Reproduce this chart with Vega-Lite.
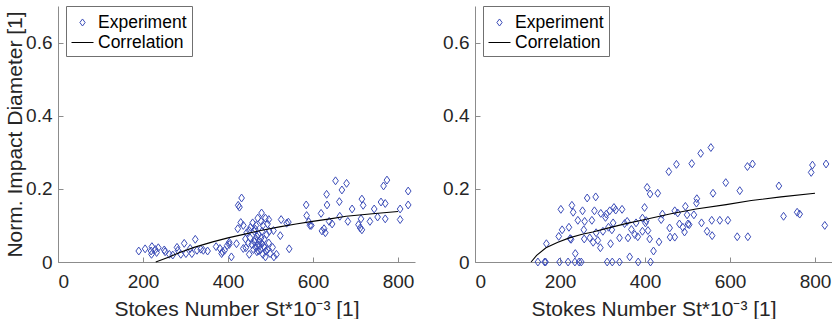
{
  "$schema": "https://vega.github.io/schema/vega-lite/v6.json",
  "background": "white",
  "padding": {"left": 4, "top": 5, "right": 0, "bottom": 0},
  "spacing": 27,
  "config": {
    "view": {"stroke": null},
    "font": "Liberation Sans",
    "axis": {
      "grid": false,
      "domainColor": "#8c8c8c",
      "tickColor": "#8c8c8c",
      "tickSize": -5,
      "labelFontSize": 19,
      "titleFontSize": 21,
      "labelColor": "#262626",
      "titleColor": "#262626",
      "titleFontWeight": "normal",
      "labelFont": "Liberation Sans",
      "titleFont": "Liberation Sans"
    },
    "legend": {
      "orient": "none",
      "legendX": 8,
      "legendY": 0,
      "padding": 5,
      "strokeColor": "#707070",
      "fillColor": "white",
      "labelFontSize": 17.5,
      "labelColor": "#000000",
      "labelFont": "Liberation Sans",
      "symbolStrokeWidth": 1,
      "symbolSize": 484,
      "labelOffset": 4,
      "rowPadding": 0,
      "title": null
    }
  },
  "datasets": {
    "left": [
      {"x":190,"y":0.030},{"x":205,"y":0.036},{"x":219,"y":0.030},{"x":221,"y":0.042},{"x":220,"y":0.021},
      {"x":229,"y":0.034},{"x":232,"y":0.026},{"x":236,"y":0.039},{"x":250,"y":0.033},{"x":252,"y":0.028},
      {"x":262,"y":0.021},{"x":270,"y":0.019},{"x":280,"y":0.040},{"x":282,"y":0.032},{"x":289,"y":0.021},
      {"x":297,"y":0.051},{"x":301,"y":0.023},{"x":311,"y":0.037},{"x":315,"y":0.023},{"x":323,"y":0.062},
      {"x":327,"y":0.032},{"x":336,"y":0.035},{"x":342,"y":0.032},{"x":352,"y":0.030},{"x":372,"y":0.042},
      {"x":381,"y":0.037},{"x":385,"y":0.023},{"x":387,"y":0.028},{"x":392,"y":0.032},{"x":398,"y":0.045},
      {"x":403,"y":0.048},{"x":403,"y":0.054},{"x":408,"y":0.014},{"x":420,"y":0.050},{"x":423,"y":0.091},
      {"x":424,"y":0.155},{"x":427,"y":0.150},{"x":432,"y":0.175},{"x":430,"y":0.108},{"x":436,"y":0.100},
      {"x":436,"y":0.037},{"x":441,"y":0.063},{"x":444,"y":0.080},{"x":450,"y":0.086},{"x":453,"y":0.095},
      {"x":458,"y":0.107},{"x":462,"y":0.084},{"x":464,"y":0.062},{"x":466,"y":0.039},{"x":468,"y":0.028},
      {"x":470,"y":0.048},{"x":472,"y":0.075},{"x":474,"y":0.057},{"x":476,"y":0.034},{"x":478,"y":0.066},
      {"x":480,"y":0.084},{"x":482,"y":0.021},{"x":484,"y":0.043},{"x":485,"y":0.062},{"x":488,"y":0.014},
      {"x":489,"y":0.030},{"x":491,"y":0.075},{"x":493,"y":0.034},{"x":496,"y":0.052},{"x":497,"y":0.084},
      {"x":499,"y":0.023},{"x":450,"y":0.021},{"x":456,"y":0.048},{"x":460,"y":0.034},{"x":452,"y":0.066},
      {"x":448,"y":0.052},{"x":442,"y":0.039},{"x":466,"y":0.100},{"x":478,"y":0.111},{"x":482,"y":0.100},
      {"x":470,"y":0.120},{"x":462,"y":0.055},{"x":468,"y":0.070},{"x":474,"y":0.045},{"x":480,"y":0.050},
      {"x":486,"y":0.040},{"x":464,"y":0.090},{"x":472,"y":0.030},{"x":479,"y":0.134},{"x":488,"y":0.120},
      {"x":493,"y":0.104},{"x":496,"y":0.116},{"x":505,"y":0.040},{"x":508,"y":0.014},{"x":514,"y":0.021},
      {"x":507,"y":0.086},{"x":523,"y":0.072},{"x":525,"y":0.116},{"x":538,"y":0.106},{"x":542,"y":0.109},
      {"x":544,"y":0.036},{"x":584,"y":0.156},{"x":585,"y":0.127},{"x":590,"y":0.110},{"x":593,"y":0.100},
      {"x":596,"y":0.100},{"x":619,"y":0.133},{"x":621,"y":0.085},{"x":626,"y":0.091},{"x":629,"y":0.080},
      {"x":632,"y":0.185},{"x":633,"y":0.156},{"x":638,"y":0.111},{"x":645,"y":0.104},{"x":653,"y":0.222},
      {"x":662,"y":0.165},{"x":663,"y":0.125},{"x":668,"y":0.197},{"x":679,"y":0.215},{"x":682,"y":0.111},
      {"x":692,"y":0.145},{"x":707,"y":0.102},{"x":711,"y":0.093},{"x":715,"y":0.088},{"x":713,"y":0.118},
      {"x":715,"y":0.172},{"x":718,"y":0.155},{"x":734,"y":0.111},{"x":744,"y":0.145},{"x":752,"y":0.123},
      {"x":760,"y":0.164},{"x":766,"y":0.208},{"x":774,"y":0.224},{"x":770,"y":0.160},{"x":770,"y":0.118},
      {"x":805,"y":0.145},{"x":805,"y":0.116},{"x":824,"y":0.194},{"x":824,"y":0.156}
    ],
    "leftCurve": [
      {"x":230,"y":0.0},{"x":260,"y":0.013},{"x":285,"y":0.025},{"x":320,"y":0.040},{"x":364,"y":0.055},
      {"x":400,"y":0.066},{"x":442,"y":0.077},{"x":480,"y":0.087},{"x":521,"y":0.096},{"x":560,"y":0.104},
      {"x":599,"y":0.111},{"x":640,"y":0.118},{"x":678,"y":0.125},{"x":740,"y":0.132},{"x":800,"y":0.138}
    ],
    "right": [
      {"x":148,"y":0},{"x":164,"y":0},{"x":166,"y":0},{"x":199,"y":0},{"x":219,"y":0},{"x":235,"y":0},
      {"x":245,"y":0},{"x":250,"y":0},{"x":311,"y":0},{"x":323,"y":0},{"x":340,"y":0},{"x":384,"y":0},{"x":413,"y":0},
      {"x":168,"y":0.050},{"x":197,"y":0.070},{"x":202,"y":0.144},{"x":205,"y":0.088},{"x":221,"y":0.095},
      {"x":224,"y":0.064},{"x":226,"y":0.062},{"x":228,"y":0.155},{"x":231,"y":0.136},{"x":236,"y":0.023},
      {"x":242,"y":0.114},{"x":253,"y":0.140},{"x":256,"y":0.088},{"x":258,"y":0.111},{"x":257,"y":0.063},
      {"x":264,"y":0.175},{"x":270,"y":0.066},{"x":275,"y":0.114},{"x":278,"y":0.054},{"x":281,"y":0.140},
      {"x":284,"y":0.178},{"x":285,"y":0.080},{"x":289,"y":0.059},{"x":295,"y":0.039},{"x":296,"y":0.133},
      {"x":301,"y":0.084},{"x":307,"y":0.122},{"x":309,"y":0.131},{"x":314,"y":0.095},{"x":317,"y":0.140},
      {"x":319,"y":0.050},{"x":322,"y":0.088},{"x":325,"y":0.107},{"x":327,"y":0.149},{"x":331,"y":0.142},
      {"x":340,"y":0.066},{"x":346,"y":0.144},{"x":352,"y":0.105},{"x":358,"y":0.111},{"x":360,"y":0.066},
      {"x":364,"y":0.014},{"x":368,"y":0.089},{"x":376,"y":0.075},{"x":379,"y":0.107},{"x":383,"y":0.069},
      {"x":394,"y":0.084},{"x":394,"y":0.120},{"x":399,"y":0.149},{"x":401,"y":0.107},{"x":403,"y":0.113},
      {"x":407,"y":0.086},{"x":405,"y":0.204},{"x":411,"y":0.063},{"x":412,"y":0.186},{"x":420,"y":0.030},
      {"x":430,"y":0.188},{"x":433,"y":0.055},{"x":438,"y":0.116},{"x":441,"y":0.131},{"x":456,"y":0.247},
      {"x":458,"y":0.093},{"x":459,"y":0.068},{"x":470,"y":0.068},{"x":470,"y":0.140},{"x":474,"y":0.267},
      {"x":477,"y":0.134},{"x":481,"y":0.104},{"x":489,"y":0.095},{"x":493,"y":0.082},{"x":495,"y":0.152},
      {"x":499,"y":0.129},{"x":501,"y":0.104},{"x":504,"y":0.102},{"x":510,"y":0.269},{"x":515,"y":0.129},
      {"x":521,"y":0.161},{"x":522,"y":0.173},{"x":531,"y":0.297},{"x":533,"y":0.107},{"x":546,"y":0.084},
      {"x":555,"y":0.313},{"x":557,"y":0.114},{"x":558,"y":0.072},{"x":560,"y":0.188},{"x":576,"y":0.114},
      {"x":590,"y":0.217},{"x":595,"y":0.114},{"x":617,"y":0.069},{"x":623,"y":0.195},{"x":641,"y":0.261},
      {"x":642,"y":0.069},{"x":653,"y":0.268},{"x":715,"y":0.208},{"x":726,"y":0.125},{"x":758,"y":0.136},
      {"x":764,"y":0.131},{"x":791,"y":0.245},{"x":794,"y":0.265},{"x":823,"y":0.100},{"x":826,"y":0.268}
    ],
    "rightCurve": [
      {"x":132,"y":0.0},{"x":145,"y":0.018},{"x":167,"y":0.039},{"x":195,"y":0.054},{"x":222,"y":0.066},
      {"x":250,"y":0.075},{"x":277,"y":0.082},{"x":310,"y":0.092},{"x":355,"y":0.105},{"x":400,"y":0.116},
      {"x":461,"y":0.132},{"x":520,"y":0.145},{"x":591,"y":0.157},{"x":650,"y":0.168},{"x":720,"y":0.178},
      {"x":800,"y":0.188}
    ]
  },
  "resolve": {"scale": {"color": "independent"}, "legend": {"color": "independent"}},
  "hconcat": [
    {
      "width": 357,
      "height": 256,
      "layer": [
        {
          "data": {"name": "left"},
          "mark": {"type": "point", "shape": "M0,-1.25L0.9,0L0,1.25L-0.9,0Z", "filled": false, "size": 40, "strokeWidth": 1, "opacity": 1},
          "encoding": {
            "x": {"field": "x", "type": "quantitative", "scale": {"domain": [0, 840], "nice": false},
                  "axis": {"title": "Stokes Number St*10⁻³ [1]", "values": [0, 200, 400, 600, 800], "labelPadding": 15, "titlePadding": 7}},
            "y": {"field": "y", "type": "quantitative", "scale": {"domain": [0, 0.7], "nice": false},
                  "axis": {"title": "Norm. Impact Diameter [1]", "values": [0, 0.2, 0.4, 0.6], "labelPadding": 11, "titlePadding": 0, "format": "~g"}},
            "color": {"datum": "Experiment", "type": "nominal",
                      "scale": {"domain": ["Experiment", "Correlation"], "range": ["#3b4cb8", "#000000"]},
                      "legend": {
                        "symbolType": {"expr": "datum.value === 'Correlation' ? 'stroke' : 'M0,-0.32L0.24,0L0,0.32L-0.24,0Z'"}}}
          }
        },
        {
          "data": {"name": "leftCurve"},
          "mark": {"type": "line", "strokeWidth": 1.1},
          "encoding": {
            "x": {"field": "x", "type": "quantitative"},
            "y": {"field": "y", "type": "quantitative"},
            "color": {"datum": "Correlation", "type": "nominal"}
          }
        }
      ]
    },
    {
      "width": 357,
      "height": 256,
      "layer": [
        {
          "data": {"name": "right"},
          "mark": {"type": "point", "shape": "M0,-1.25L0.9,0L0,1.25L-0.9,0Z", "filled": false, "size": 40, "strokeWidth": 1, "opacity": 1},
          "encoding": {
            "x": {"field": "x", "type": "quantitative", "scale": {"domain": [0, 840], "nice": false},
                  "axis": {"title": "Stokes Number St*10⁻³ [1]", "values": [0, 200, 400, 600, 800], "labelPadding": 15, "titlePadding": 7}},
            "y": {"field": "y", "type": "quantitative", "scale": {"domain": [0, 0.7], "nice": false},
                  "axis": {"title": null, "values": [0, 0.2, 0.4, 0.6], "labelPadding": 11, "format": "~g"}},
            "color": {"datum": "Experiment", "type": "nominal",
                      "scale": {"domain": ["Experiment", "Correlation"], "range": ["#3b4cb8", "#000000"]},
                      "legend": {
                        "symbolType": {"expr": "datum.value === 'Correlation' ? 'stroke' : 'M0,-0.32L0.24,0L0,0.32L-0.24,0Z'"}}}
          }
        },
        {
          "data": {"name": "rightCurve"},
          "mark": {"type": "line", "strokeWidth": 1.1},
          "encoding": {
            "x": {"field": "x", "type": "quantitative"},
            "y": {"field": "y", "type": "quantitative"},
            "color": {"datum": "Correlation", "type": "nominal"}
          }
        }
      ]
    }
  ]
}
